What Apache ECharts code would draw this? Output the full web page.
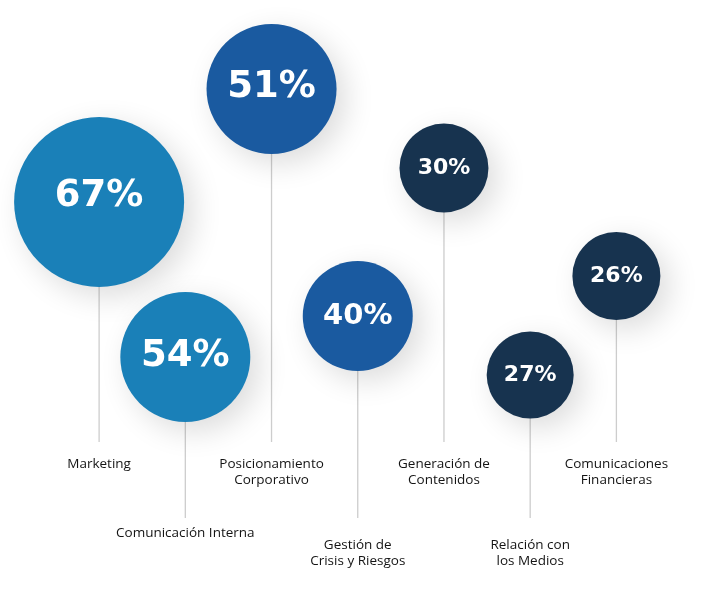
<!DOCTYPE html>
<html>
<head>
<meta charset="utf-8">
<script src="https://cdn.jsdelivr.net/npm/echarts@6/dist/echarts.min.js"></script>
<style>html,body{margin:0;padding:0;background:#fff;}#c{width:720px;height:610px;}</style>
</head>
<body>
<div id="c"></div>
<script>
// ---- data ----
const categories = [
  'Marketing',
  'Comunicación Interna',
  'Posicionamiento\nCorporativo',
  'Gestión de\nCrisis y Riesgos',
  'Generación de\nContenidos',
  'Relación con\nlos Medios',
  'Comunicaciones\nFinancieras'
];
const percentages = [67, 54, 51, 40, 30, 27, 26];

// ---- layout / style (pixel units on a 0..610 vertical layout axis) ----
const bubbleY   = [202, 357, 89, 316, 168, 375, 276];
const stemEnd   = [442, 518, 442, 518, 442, 518, 442];
const labelTop  = [456, 525, 456, 537, 456, 537, 456];
const diameters = [170, 130, 130, 110, 89, 87, 88];
const fontSizes = [37, 37, 37, 29, 22, 22, 22];
const labelDy   = [-6, -1, -2, 0, 0, 0, 0];
const colors    = ['#1a80b8', '#1a80b8', '#1a5aa0', '#1a5aa0', '#17334f', '#17334f', '#17334f'];

const chart = echarts.init(document.getElementById('c'), null, {renderer: 'canvas'});

const scatterData = percentages.map((v, i) => ({
  value: [i, bubbleY[i], v],
  symbolSize: diameters[i],
  itemStyle: {color: colors[i]},
  label: {fontSize: fontSizes[i], offset: [0, labelDy[i]]}
}));

const stemData = categories.map((c, i) => [i, bubbleY[i], stemEnd[i], labelTop[i]]);

chart.setOption({
  animation: false,
  backgroundColor: '#ffffff',
  grid: {left: 56, right: 60.5, top: 0, bottom: 0},
  xAxis: {
    type: 'category',
    data: categories,
    boundaryGap: true,
    show: false
  },
  yAxis: {
    type: 'value',
    min: 0, max: 610,
    inverse: true,
    show: false
  },
  series: [
    {
      type: 'custom',
      z: 1,
      data: stemData,
      renderItem: function (params, api) {
        const i = api.value(0);
        const top = api.coord([i, api.value(1)]);
        const bot = api.coord([i, api.value(2)]);
        const lab = api.coord([i, api.value(3)]);
        return {
          type: 'group',
          children: [
            {
              type: 'line',
              shape: {x1: top[0], y1: top[1], x2: bot[0], y2: bot[1]},
              style: {stroke: '#cdcdcd', lineWidth: 1.3}
            },
            {
              type: 'text',
              x: lab[0], y: lab[1],
              style: {
                text: categories[params.dataIndex],
                align: 'center',
                verticalAlign: 'top',
                fontFamily: 'Open Sans',
                fontSize: 13.5,
                lineHeight: 16,
                fill: '#141414'
              }
            }
          ]
        };
      }
    },
    {
      type: 'scatter',
      z: 3,
      data: scatterData,
      itemStyle: {
        shadowBlur: 30,
        shadowColor: 'rgba(0,0,0,0.14)',
        shadowOffsetX: 9,
        shadowOffsetY: 9,
        opacity: 1
      },
      label: {
        show: true,
        position: 'inside',
        formatter: p => p.value[2] + '%',
        color: '#ffffff',
        fontFamily: 'DejaVu Sans',
        fontWeight: 'bold'
      },
      emphasis: {disabled: true}
    }
  ]
});
</script>
</body>
</html>
